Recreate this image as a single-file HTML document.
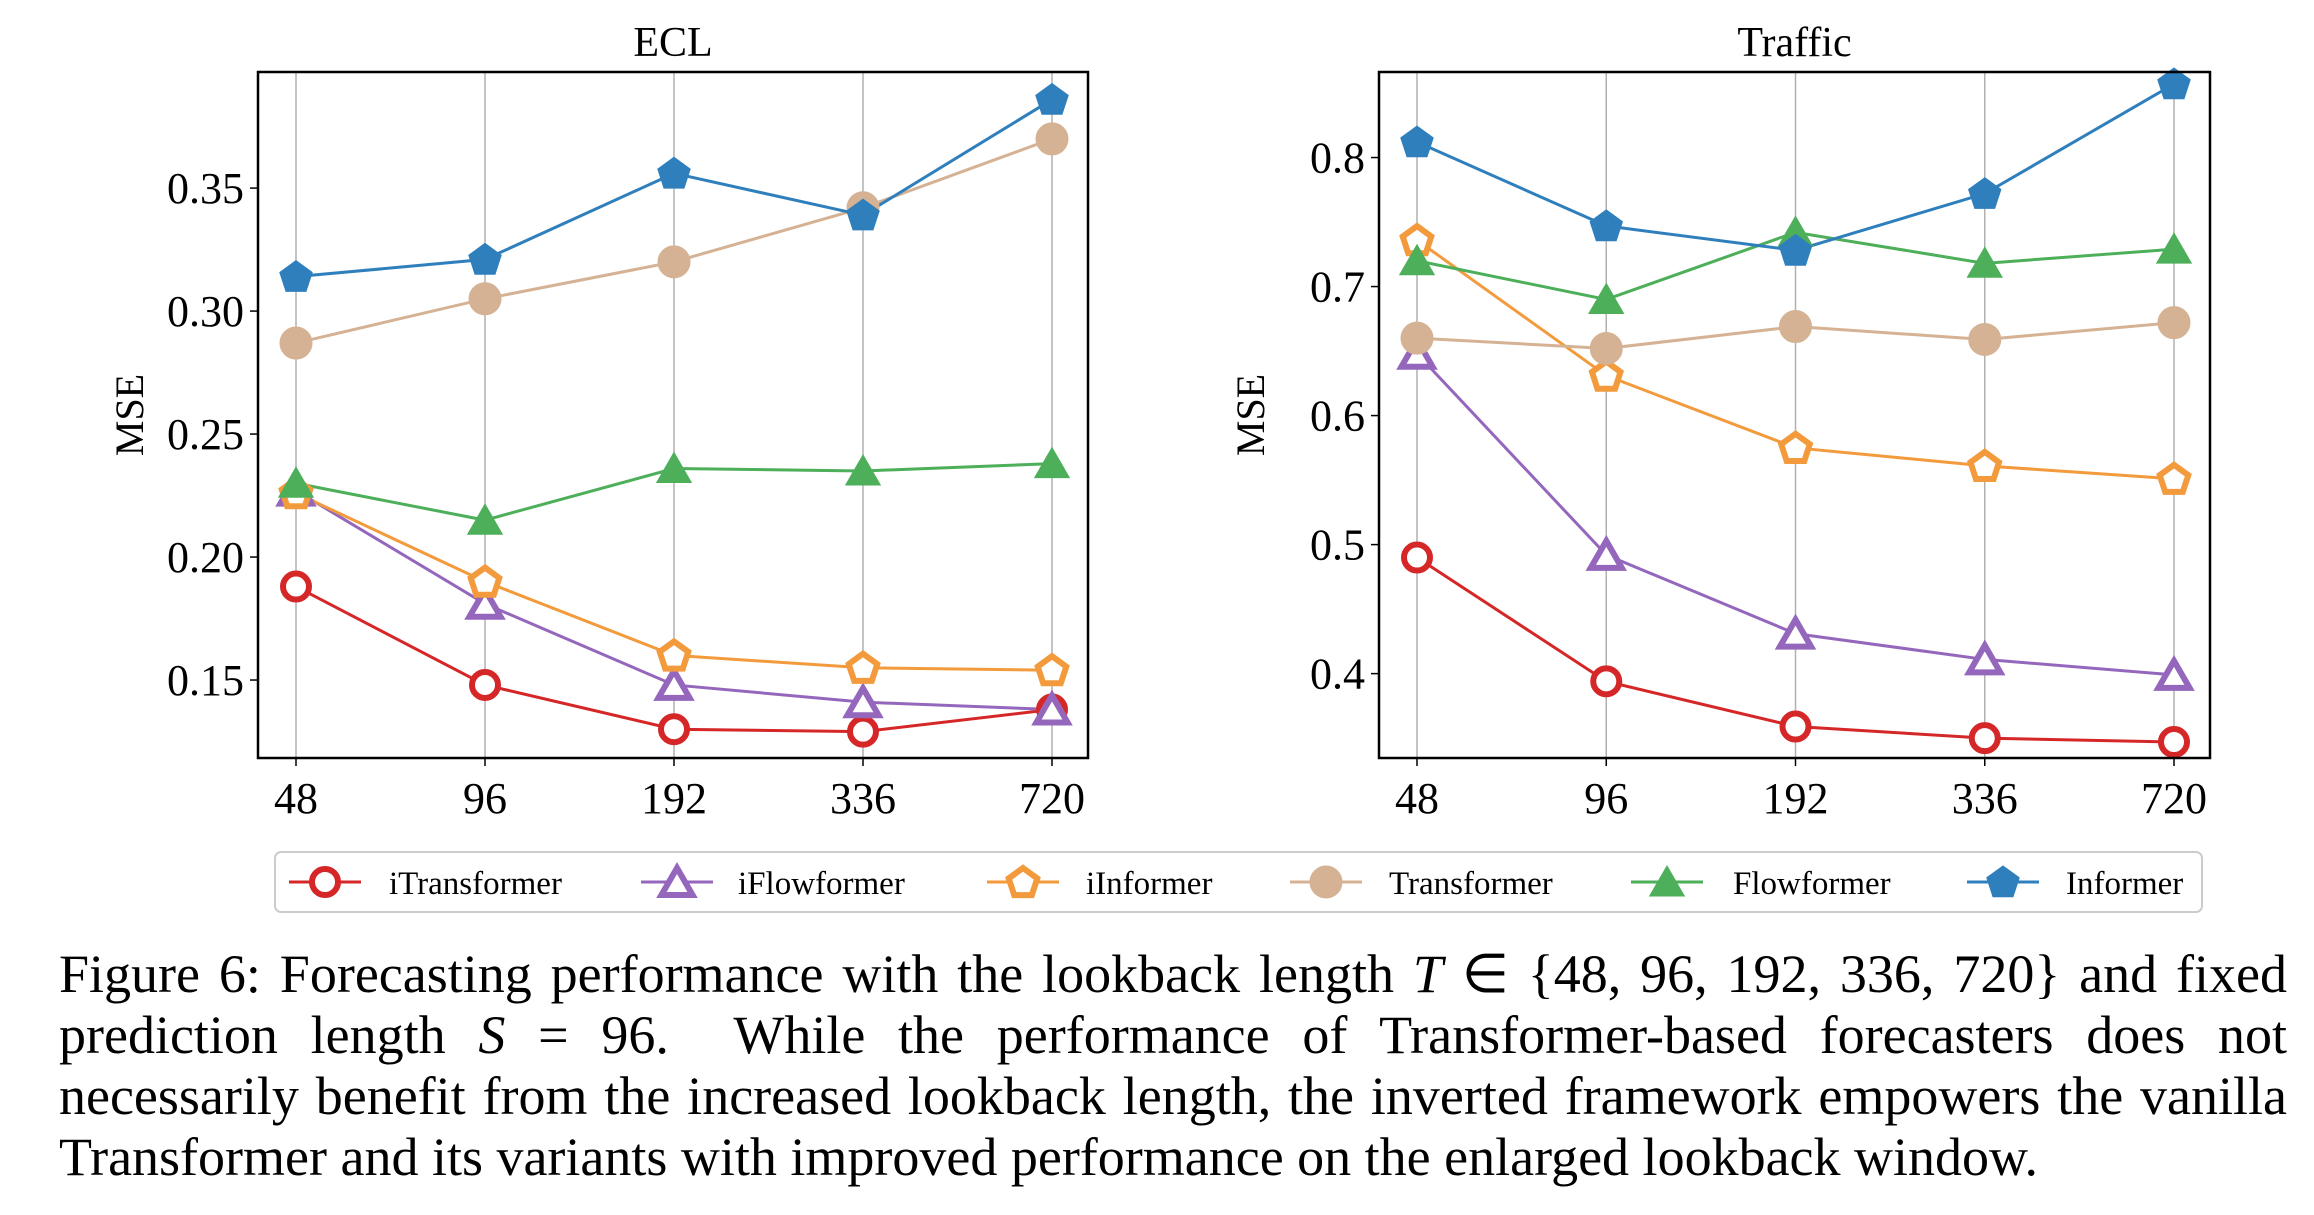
<!DOCTYPE html>
<html><head><meta charset="utf-8"><style>
html,body{margin:0;padding:0;background:#fff;}
body{width:2314px;height:1215px;overflow:hidden;position:relative;font-family:"Liberation Serif",serif;}
#caption{position:absolute;left:59px;top:944px;width:2228px;font-size:54px;line-height:61px;color:#000;}
#caption .ln{text-align:justify;text-align-last:justify;white-space:nowrap;height:61px;}
#caption .ln.last{text-align-last:left;}
</style></head><body>
<svg id="chart" width="2314" height="930" style="position:absolute;left:0;top:0" font-family="Liberation Serif, serif"></svg>
<div id="caption">
<div class="ln">Figure 6: Forecasting performance with the lookback length <i>T</i> ∈ {48, 96, 192, 336, 720} and fixed</div>
<div class="ln">prediction length <i>S</i> = 96.&nbsp; While the performance of Transformer-based forecasters does not</div>
<div class="ln">necessarily benefit from the increased lookback length, the inverted framework empowers the vanilla</div>
<div class="ln last">Transformer and its variants with improved performance on the enlarged lookback window.</div>
</div>
<script>
const categories = ["48","96","192","336","720"];
const seriesNames = ["iTransformer","iFlowformer","iInformer","Transformer","Flowformer","Informer"];
const eclITransformer = [0.188,0.148,0.130,0.129,0.138];
const eclIFlowformer = [0.227,0.181,0.148,0.141,0.138];
const eclIInformer = [0.226,0.190,0.160,0.155,0.154];
const eclTransformer = [0.287,0.305,0.320,0.342,0.370];
const eclFlowformer = [0.230,0.215,0.236,0.235,0.238];
const eclInformer = [0.314,0.321,0.356,0.339,0.386];
const trafficITransformer = [0.490,0.394,0.359,0.350,0.347];
const trafficIFlowformer = [0.648,0.492,0.431,0.411,0.399];
const trafficIInformer = [0.736,0.631,0.575,0.561,0.551];
const trafficTransformer = [0.660,0.652,0.669,0.659,0.672];
const trafficFlowformer = [0.720,0.690,0.742,0.718,0.729];
const trafficInformer = [0.812,0.747,0.728,0.772,0.857];
const eclTicks = [0.15,0.20,0.25,0.30,0.35];
const eclTickLabels = ["0.15","0.20","0.25","0.30","0.35"];
const trafficTicks = [0.4,0.5,0.6,0.7,0.8];
const trafficTickLabels = ["0.4","0.5","0.6","0.7","0.8"];

const NS="http://www.w3.org/2000/svg";
const svg=document.getElementById('chart');
const colors=["#d62728","#9467bd","#f39a3c","#d4b293","#4daf5a","#2f7fbd"];
const kinds=["circleO","triO","pentO","circle","tri","pent"];
function mk(tag,attrs,parent){const e=document.createElementNS(NS,tag);for(const k in attrs)e.setAttribute(k,attrs[k]);(parent||svg).appendChild(e);return e;}
function markerPath(kind,cx,cy,r){
  let n=kind.startsWith('tri')?3:5;let pts=[];
  for(let i=0;i<n;i++){const a=-Math.PI/2+i*2*Math.PI/n;pts.push((cx+r*Math.cos(a)).toFixed(1)+','+(cy+r*Math.sin(a)).toFixed(1));}
  return pts.join(' ');
}
function drawMarker(g,kind,color,cx,cy){
  const open=kind.endsWith('O');
  let el;
  if(kind.startsWith('circle')){
    el=mk('circle',{cx:cx,cy:cy,r:open?13:16},g);
  }else{
    const r=kind.startsWith('tri')?(open?18:20):(open?15:17);
    const yo=kind.startsWith('tri')?4:1;
    el=mk('polygon',{points:markerPath(kind,cx,cy+yo,r)},g);
  }
  el.setAttribute('fill',open?'#fff':color);
  el.setAttribute('stroke',color);
  el.setAttribute('stroke-width',open?6:1);
  
  
  return el;
}
function panel(name,title,L,R,T,B,x0,x1,vMin,vMax,ticks,tickLabels,data){
  const g=mk('g',{});
  
  
  const xs=i=>x0+(x1-x0)*i/(categories.length-1);
  const ys=v=>B-(v-vMin)/(vMax-vMin)*(B-T);
  categories.forEach((c,i)=>{
    const gl=mk('line',{x1:xs(i),x2:xs(i),y1:T,y2:B,stroke:'#b0b0b0','stroke-width':1.5},g);
    
    
    mk('line',{x1:xs(i),x2:xs(i),y1:B,y2:B+8,stroke:'#000','stroke-width':1.5},g);
    const t=mk('text',{x:xs(i),y:B+55,'text-anchor':'middle','font-size':44},g);
    t.textContent=c;
    
    
  });
  ticks.forEach((v,i)=>{
    mk('line',{x1:L-8,x2:L,y1:ys(v),y2:ys(v),stroke:'#000','stroke-width':1.5},g);
    const t=mk('text',{x:L-14,y:ys(v)+15,'text-anchor':'end','font-size':44},g);
    t.textContent=tickLabels[i];
    
    
  });
  data.forEach((vals,s)=>{
    const pl=mk('polyline',{points:vals.map((v,i)=>xs(i)+','+ys(v)).join(' '),fill:'none',stroke:colors[s],'stroke-width':3},g);
    
    
  });
  data.forEach((vals,s)=>{vals.forEach((v,i)=>drawMarker(g,kinds[s],colors[s],xs(i),ys(v)));});
  const fr=mk('rect',{x:L,y:T,width:R-L,height:B-T,fill:'none',stroke:'#000','stroke-width':2.5},g);
  
  
  const tt=mk('text',{x:(L+R)/2,y:T-16,'text-anchor':'middle','font-size':42},g);
  tt.textContent=title;
  
  
  const yl=mk('text',{x:0,y:0,'text-anchor':'middle','font-size':40,transform:`translate(${L-115},${(T+B)/2}) rotate(-90)`},g);
  yl.textContent='MSE';
  
  
}
panel('ecl','ECL',258,1088,72,758,296,1052,0.1183,0.3972,eclTicks,eclTickLabels,
  [eclITransformer,eclIFlowformer,eclIInformer,eclTransformer,eclFlowformer,eclInformer]);
panel('traffic','Traffic',1379,2210,72,758,1417,2174,0.3346,0.8663,trafficTicks,trafficTickLabels,
  [trafficITransformer,trafficIFlowformer,trafficIInformer,trafficTransformer,trafficFlowformer,trafficInformer]);

// legend
const lg=mk('g',{});


mk('rect',{x:275,y:852,width:1927,height:60,rx:6,fill:'#fff',stroke:'#cccccc','stroke-width':2},lg);
const mX=[325,677,1023,1326,1667,2003];
const tX=[389,738,1086,1389,1733,2066];
seriesNames.forEach((n,s)=>{
  const e=mk('g',{},lg);
  
  
  mk('line',{x1:mX[s]-36,x2:mX[s]+36,y1:882,y2:882,stroke:colors[s],'stroke-width':3},e);
  drawMarker(e,kinds[s],colors[s],mX[s],882);
  const t=mk('text',{x:tX[s],y:894,'font-size':33},e);
  t.textContent=n;
  
  
});

// fit caption lines: compress horizontally if natural width exceeds box
const W=2228;
document.querySelectorAll('#caption .ln').forEach(ln=>{
  const probe=document.createElement('span');
  probe.style.whiteSpace='nowrap';
  probe.innerHTML=ln.innerHTML;
  probe.style.position='absolute';probe.style.visibility='hidden';
  document.getElementById('caption').appendChild(probe);
  const w=probe.getBoundingClientRect().width;
  probe.remove();
  if(w>W){
    ln.style.transformOrigin='0 0';
    ln.style.width=w+'px';
    ln.style.textAlignLast='left';
    ln.style.transform='scaleX('+(W/w)+')';
  }
});
</script>
</body></html>
